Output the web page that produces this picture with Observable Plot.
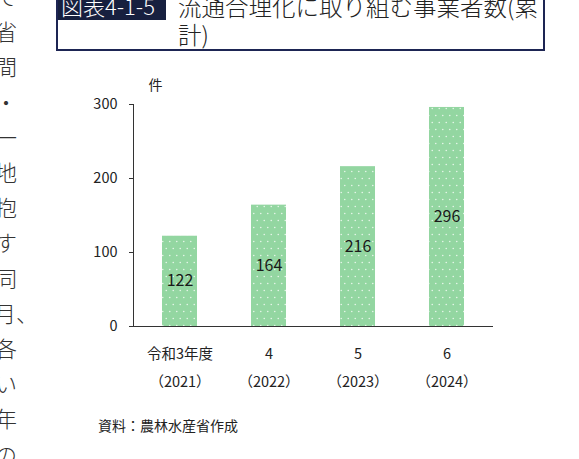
<!DOCTYPE html>
<html>
<head>
<meta charset="utf-8">
<script src="https://cdn.jsdelivr.net/npm/d3@7"></script>
<script src="https://cdn.jsdelivr.net/npm/@observablehq/plot@0.6"></script>
<style>
  html, body { margin: 0; padding: 0; background: #fff; }
  body { width: 579px; height: 459px; position: relative; overflow: hidden;
         font-family: "Noto Sans CJK JP", "Noto Sans", sans-serif; color: #222; }
  .abs { position: absolute; white-space: nowrap; }
  #titlebox { position: absolute; left: 56px; top: -30px; width: 485px; height: 77px;
              border: 2px solid #1d2553; overflow: hidden; }
  #label { position: absolute; left: 0; top: 0; width: 108px; height: 48px; background: #17203f;
           color: #fff; font-size: 22px; line-height: 22px; font-weight: 300; }
  #label span { position: absolute; left: 3px; top: 22px; }
  #tline { position: absolute; left: 120px; top: 20px; width: 364px; font-size: 23.5px; line-height: 28px;
           color: #222; font-weight: 300; }
  .vchar { position: absolute; left: -6px; width: 24px; text-align: center; font-size: 22px;
           line-height: 22px; color: #333; font-weight: 300; }
  #chart { position: absolute; left: 0; top: 70px; }
</style>
</head>
<body>
<div id="leftcol"></div>
<div id="titlebox">
  <div id="label"><span>図表4-1-5</span></div>
  <div id="tline">流通合理化に取り組む事業者数(累計)</div>
</div>
<div id="chart"></div>
<div class="abs" style="left:98px; top:415px; font-size:14px; line-height:20px; color:#222;">資料：農林水産省作成</div>
<script>
// ---- data ----
const categories = ["令和3年度", "4", "5", "6"];
const fiscalYears = ["（2021）", "（2022）", "（2023）", "（2024）"];
const values = [122, 164, 216, 296];
const yTicks = [0, 100, 200, 300];
const unitLabel = "件";
const leftColumnChars = ["て", "省", "間", "・", "一", "地", "抱", "す", "同", "月、", "各", "い", "年", "の"];

// ---- left page text column (clipped at page edge) ----
const leftCol = document.getElementById("leftcol");
leftColumnChars.forEach((c, i) => {
  const d = document.createElement("div");
  d.className = "vchar";
  d.style.top = (-16 + i * 35.2) + "px";
  d.textContent = c;
  leftCol.appendChild(d);
});

const data = categories.map((c, i) => ({ cat: c, year: fiscalYears[i], value: values[i] }));
const labelFor = new Map(data.map(d => [d.cat, d.cat + "\n" + d.year]));

const chart = Plot.plot({
  width: 579,
  height: 330,
  marginTop: 34,
  marginBottom: 74,
  marginLeft: 133,
  marginRight: 86,
  style: { fontFamily: "'Noto Sans CJK JP', 'Noto Sans', sans-serif", color: "#222", background: "transparent" },
  x: { domain: categories, paddingInner: 0.61, paddingOuter: 0.31 },
  y: { domain: [0, 300] },
  marks: [
    Plot.barY(data, { x: "cat", y: "value", fill: "url(#dots)" }),
    Plot.frame({ anchor: "left", stroke: "#333" }),
    Plot.ruleY([0], { stroke: "#333" }),
    Plot.axisY({ ticks: yTicks, tickSize: 4, tickPadding: 12, fontSize: 14.5, label: null, stroke: "#333" }),
    Plot.axisX({ tickSize: 0, tickPadding: 12, fontSize: 14.5, lineHeight: 1.95, label: null,
                 tickFormat: d => labelFor.get(d) }),
    Plot.text(data, { x: "cat", y: d => d.value / 2, text: d => String(d.value), fontSize: 16, fill: "#1a1a1a" }),
    Plot.text([unitLabel], { frameAnchor: "top-left", dx: 15, dy: -24, fontSize: 14, fill: "#222" })
  ]
});

d3.select(chart).insert("defs", ":first-child").html(`
  <pattern id="dots" patternUnits="userSpaceOnUse" width="7" height="14" x="161" y="0">
    <rect width="7" height="14" fill="#93d6a1"></rect>
    <circle cx="1.75" cy="3.5" r="0.8" fill="#ffffff" fill-opacity="0.75"></circle>
    <circle cx="5.25" cy="10.5" r="0.8" fill="#ffffff" fill-opacity="0.75"></circle>
  </pattern>`);

document.getElementById("chart").appendChild(chart);
</script>
</body>
</html>
